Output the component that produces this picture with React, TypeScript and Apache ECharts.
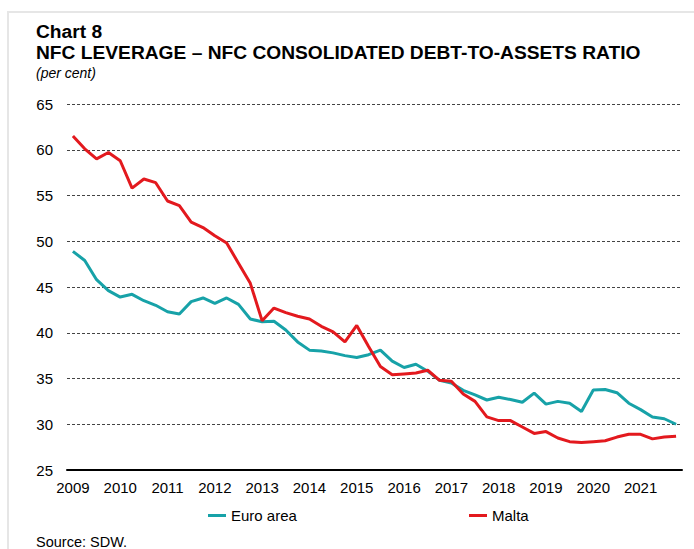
import React, { useEffect, useRef } from "react";
import * as echarts from "echarts";

const years = ["2009", "2010", "2011", "2012", "2013", "2014", "2015", "2016", "2017", "2018", "2019", "2020", "2021"];
const quarters = ["Q1", "Q2", "Q3", "Q4"];

const euroArea = [
  48.9, 47.9, 45.8, 44.6, 43.9, 44.2, 43.5, 43.0, 42.3, 42.05,
  43.4, 43.8, 43.2, 43.8, 43.1, 41.5, 41.2, 41.25, 40.3, 39.0,
  38.1, 38.0, 37.8, 37.5, 37.3, 37.6, 38.1, 36.9, 36.2, 36.55,
  35.8, 34.8, 34.5, 33.7, 33.2, 32.65, 32.95, 32.7, 32.4, 33.4,
  32.2, 32.5, 32.3, 31.4, 33.75, 33.8, 33.45, 32.3, 31.6, 30.8,
  30.6, 30.0,
];

const malta = [
  61.5, 60.1, 59.0, 59.7, 58.8, 55.8, 56.8, 56.4, 54.4, 53.9,
  52.1, 51.5, 50.6, 49.8, 47.6, 45.4, 41.3, 42.7, 42.2, 41.8,
  41.5, 40.7, 40.1, 39.0, 40.8, 38.5, 36.3, 35.4, 35.5, 35.6,
  35.9, 34.8, 34.7, 33.3, 32.5, 30.8, 30.4, 30.4, 29.7, 29.0,
  29.2, 28.5, 28.1, 28.0, 28.1, 28.2, 28.6, 28.9, 28.9, 28.4,
  28.6, 28.7,
];

const seriesNames = ["Euro area", "Malta"];
const yTicks = { min: 25, max: 65, interval: 5 };

const titleLines = ["Chart 8", "NFC LEVERAGE \u2013 NFC CONSOLIDATED DEBT-TO-ASSETS RATIO"];
const subtitle = "(per cent)";
const sourceText = "Source: SDW.";

const categories: string[] = [];
years.forEach((y) => quarters.forEach((q) => categories.push(y + " " + q)));

const FONT = "'Liberation Sans', Arial, Helvetica, sans-serif";
const TEAL = "#17A2A8";
const RED = "#E3191E";

export default function App() {
  const ref = useRef<HTMLDivElement>(null);
  useEffect(() => {
    if (!ref.current) return;
    const chart = echarts.init(ref.current, undefined, { renderer: "svg" });
    chart.setOption({
      animation: false,
      backgroundColor: "#ffffff",
      grid: { left: 67, right: 12, top: 104, bottom: 79, containLabel: false },
      graphic: [
        {
          type: "polyline",
          silent: true,
          shape: { points: [[8, 560], [8, 12], [700, 12]] },
          style: { stroke: "#e6e6e6", lineWidth: 2, fill: "none" },
        },
        {
          type: "text",
          left: 36,
          top: 22,
          style: { text: titleLines[0], font: "bold 19.2px " + FONT, fill: "#000" },
        },
        {
          type: "text",
          left: 36,
          top: 43,
          style: { text: titleLines[1], font: "bold 19.2px " + FONT, fill: "#000" },
        },
        {
          type: "text",
          left: 36,
          top: 66,
          style: { text: subtitle, font: "italic 14px " + FONT, fill: "#000" },
        },
        {
          type: "text",
          left: 36,
          top: 534,
          style: { text: sourceText, font: "14.5px " + FONT, fill: "#000" },
        },
      ],
      legend: [
        {
          data: [seriesNames[0]],
          left: 208,
          top: 508,
          padding: 0,
          icon: "rect",
          itemWidth: 18,
          itemHeight: 3,
          textStyle: { fontFamily: FONT, fontSize: 15, color: "#000" },
        },
        {
          data: [seriesNames[1]],
          left: 469,
          top: 508,
          padding: 0,
          icon: "rect",
          itemWidth: 18,
          itemHeight: 3,
          textStyle: { fontFamily: FONT, fontSize: 15, color: "#000" },
        },
      ],
      xAxis: {
        type: "category",
        data: categories,
        boundaryGap: true,
        axisLine: { show: true, lineStyle: { color: "#000", width: 2 } },
        axisTick: { show: false },
        axisLabel: {
          interval: 3,
          margin: 10,
          color: "#000",
          fontFamily: FONT,
          fontSize: 15,
          formatter: (v: string) => v.split(" ")[0],
        },
        splitLine: { show: false },
      },
      yAxis: {
        type: "value",
        min: yTicks.min,
        max: yTicks.max,
        interval: yTicks.interval,
        axisLine: { show: false },
        axisTick: { show: false },
        axisLabel: { margin: 14, color: "#000", fontFamily: FONT, fontSize: 15 },
        splitLine: { show: true, lineStyle: { color: "#444", width: 1, type: [3, 2] } },
      },
      series: [
        {
          name: seriesNames[0],
          type: "line",
          data: euroArea,
          symbol: "none",
          color: TEAL,
          lineStyle: { color: TEAL, width: 3 },
        },
        {
          name: seriesNames[1],
          type: "line",
          data: malta,
          symbol: "none",
          color: RED,
          lineStyle: { color: RED, width: 3 },
        },
      ],
    });
    return () => chart.dispose();
  }, []);
  return (
    <div
      ref={ref}
      style={{ position: "fixed", left: 0, top: 0, width: 694, height: 549, background: "#fff" }}
    />
  );
}
